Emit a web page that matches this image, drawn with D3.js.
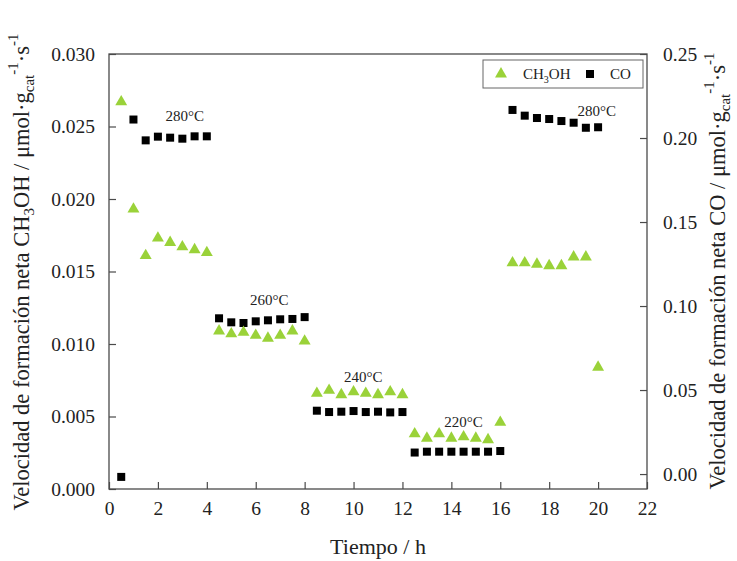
<!DOCTYPE html>
<html>
<head>
<meta charset="utf-8">
<script src="https://cdn.jsdelivr.net/npm/d3@7"></script>
<style>
  html, body { margin: 0; padding: 0; background: #fff; }
  svg { display: block; }
  svg text { font-family: 'Liberation Serif', 'Times New Roman', Times, serif; }
</style>
</head>
<body>
<svg id="chart" width="737" height="561"></svg>
<script>
// Time on stream (h) for each sample
const timeMeOH = [0.5, 1, 1.5, 2, 2.5, 3, 3.5, 4,
  4.5, 5, 5.5, 6, 6.5, 7, 7.5, 8,
  8.5, 9, 9.5, 10, 10.5, 11, 11.5, 12,
  12.5, 13, 13.5, 14, 14.5, 15, 15.5, 16,
  16.5, 17, 17.5, 18, 18.5, 19, 19.5, 20];
// Net CH3OH formation rate (µmol·gcat-1·s-1), left axis
const rateMeOH = [0.0267, 0.0193, 0.0161, 0.0173, 0.0170, 0.0167, 0.0165, 0.0163,
  0.0109, 0.0107, 0.0108, 0.0106, 0.0104, 0.0106, 0.0109, 0.0102,
  0.0066, 0.0068, 0.0065, 0.0067, 0.0066, 0.0065, 0.0067, 0.0065,
  0.0038, 0.0035, 0.0038, 0.0035, 0.0036, 0.0035, 0.0034, 0.0046,
  0.0156, 0.0156, 0.0155, 0.0154, 0.0154, 0.0160, 0.0160, 0.0084];

const timeCO = [0.5, 1, 1.5, 2, 2.5, 3, 3.5, 4,
  4.5, 5, 5.5, 6, 6.5, 7, 7.5, 8,
  8.5, 9, 9.5, 10, 10.5, 11, 11.5, 12,
  12.5, 13, 13.5, 14, 14.5, 15, 15.5, 16,
  16.5, 17, 17.5, 18, 18.5, 19, 19.5, 20];
// Net CO formation rate (µmol·gcat-1·s-1), right axis
const rateCO = [-0.0017, 0.211, 0.1986, 0.2008, 0.2002, 0.1996, 0.2010, 0.2010,
  0.0927, 0.0903, 0.0899, 0.0909, 0.0915, 0.0921, 0.0923, 0.0934,
  0.0377, 0.0369, 0.0371, 0.0375, 0.0369, 0.0371, 0.0367, 0.0369,
  0.0128, 0.0133, 0.0133, 0.0133, 0.0133, 0.0133, 0.0133, 0.0137,
  0.2167, 0.2133, 0.2119, 0.2113, 0.2101, 0.2091, 0.2061, 0.2064];

// Reaction temperature annotations: time, CH3OH-axis level, text
const tempTime = [3.1, 6.55, 10.4, 14.5, 19.95];
const tempLevel = [0.0254, 0.0127, 0.0074, 0.0043, 0.0257];
const tempText = ["280°C", "260°C", "240°C", "220°C", "280°C"];

const xTicks = [0, 2, 4, 6, 8, 10, 12, 14, 16, 18, 20, 22];
const yLeftTicks = [0, 0.005, 0.010, 0.015, 0.020, 0.025, 0.030];
const yRightTicks = [0, 0.05, 0.10, 0.15, 0.20, 0.25];

const svg = d3.select("#chart");
const L = 109, R = 647, T = 54, B = 489;
const green = "#9ad239";
const frameColor = "#4a4a4a";
const textColor = "#222";

const x = d3.scaleLinear().domain([0, 22]).range([L, R]);
const yL = d3.scaleLinear().domain([0, 0.030]).range([B, T]);
const yR = d3.scaleLinear().domain([-0.0089, 0.25]).range([B, T]);

// Axes with inward ticks
const axX = svg.append("g").attr("transform", `translate(0,${B})`)
  .call(d3.axisBottom(x).tickValues(xTicks).tickSizeInner(-7).tickSizeOuter(0)
    .tickPadding(12).tickFormat(d3.format("d")));
const axL = svg.append("g").attr("transform", `translate(${L},0)`)
  .call(d3.axisLeft(yL).tickValues(yLeftTicks).tickSizeInner(-7).tickSizeOuter(0)
    .tickPadding(14).tickFormat(d3.format(".3f")));
const axR = svg.append("g").attr("transform", `translate(${R},0)`)
  .call(d3.axisRight(yR).tickValues(yRightTicks).tickSizeInner(-7).tickSizeOuter(0)
    .tickPadding(16).tickFormat(d3.format(".2f")));

[axX, axL, axR].forEach(a => {
  a.attr("font-family", null);
  a.select(".domain").remove();
  a.selectAll(".tick line").attr("stroke", frameColor).attr("stroke-width", 1.2);
  a.selectAll(".tick text").attr("font-size", 19.5).attr("fill", textColor);
});

// Plot frame
svg.append("rect").attr("x", L).attr("y", T).attr("width", R - L).attr("height", B - T)
  .attr("fill", "none").attr("stroke", frameColor).attr("stroke-width", 1.3);

// CO squares
const sq = 8;
svg.append("g").selectAll("rect").data(timeCO.map((t, i) => [t, rateCO[i]]))
  .join("rect")
  .attr("x", d => x(d[0]) - sq / 2).attr("y", d => yR(d[1]) - sq / 2)
  .attr("width", sq).attr("height", sq).attr("fill", "#000");

// CH3OH triangles
const tri = d3.symbol().type(d3.symbolTriangle).size(62);
svg.append("g").selectAll("path").data(timeMeOH.map((t, i) => [t, rateMeOH[i]]))
  .join("path")
  .attr("d", tri)
  .attr("transform", d => `translate(${x(d[0])},${yL(d[1])})`)
  .attr("fill", green);

// Temperature labels
svg.append("g").selectAll("text").data(tempText)
  .join("text")
  .attr("x", (d, i) => x(tempTime[i]))
  .attr("y", (d, i) => yL(tempLevel[i]))
  .attr("text-anchor", "middle")
  .attr("font-size", 15).attr("fill", textColor)
  .text(d => d);

// Legend
const lg = svg.append("g");
lg.append("rect").attr("x", 483).attr("y", 60).attr("width", 160).attr("height", 28)
  .attr("fill", "#fff").attr("stroke", "#666").attr("stroke-width", 1);
lg.append("path").attr("d", tri).attr("transform", "translate(501,74)").attr("fill", green);
const lt = lg.append("text").attr("x", 523).attr("y", 79).attr("font-size", 15).attr("fill", textColor);
lt.append("tspan").text("CH");
lt.append("tspan").attr("font-size", 10).attr("dy", 4).text("3");
lt.append("tspan").attr("dy", -4).text("OH");
lg.append("rect").attr("x", 586).attr("y", 70).attr("width", sq).attr("height", sq).attr("fill", "#000");
lg.append("text").attr("x", 610).attr("y", 79).attr("font-size", 15).attr("fill", textColor).text("CO");

// Axis titles
svg.append("text").attr("x", (L + R) / 2).attr("y", 554).attr("text-anchor", "middle")
  .attr("font-size", 22).attr("fill", textColor).text("Tiempo / h");

function rateTitle(g, species) {
  const t = g.append("text").attr("text-anchor", "middle").attr("font-size", 22.5).attr("fill", textColor);
  t.append("tspan").text("Velocidad de formación neta ");
  species(t);
  t.append("tspan").text(" / μmol·g");
  t.append("tspan").attr("font-size", 15).attr("dy", 5).text("cat");
  t.append("tspan").attr("font-size", 15).attr("dy", -16).text("-1");
  t.append("tspan").attr("dy", 11).text("·s");
  t.append("tspan").attr("font-size", 15).attr("dy", -11).text("-1");
  return t;
}

rateTitle(svg.append("g").attr("transform", "translate(29,272) rotate(-90)"), t => {
  t.append("tspan").text("CH");
  t.append("tspan").attr("font-size", 15).attr("dy", 5).text("3");
  t.append("tspan").attr("dy", -5).text("OH");
});
rateTitle(svg.append("g").attr("transform", "translate(725,271) rotate(-90)"), t => {
  t.append("tspan").text("CO");
});
</script>
</body>
</html>
